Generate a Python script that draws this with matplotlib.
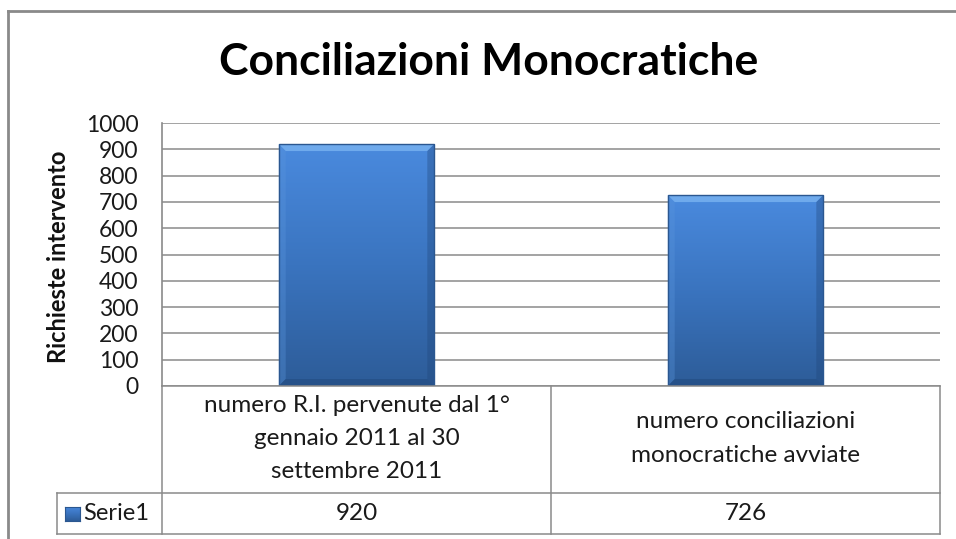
import matplotlib
matplotlib.use("Agg")
import matplotlib.pyplot as plt
import numpy as np
from matplotlib.transforms import blended_transform_factory
from matplotlib.colors import LinearSegmentedColormap
from matplotlib.lines import Line2D
from matplotlib.patches import Polygon

plt.rcParams['font.family'] = ['Lato', 'DejaVu Sans']

title = "Conciliazioni Monocratiche"
ylabel = "Richieste intervento"
categories = ["numero R.I. pervenute dal 1°\ngennaio 2011 al 30\nsettembre 2011",
              "numero conciliazioni\nmonocratiche avviate"]
series_name = "Serie1"
values = [920, 726]
yticks = list(range(0, 1001, 100))

W, H = 956, 539
fig = plt.figure(figsize=(W / 100, H / 100), dpi=100)
fig.patch.set_facecolor('white')

def fx(px):
    return px / W

def fy(py):
    return 1 - py / H

L, R, T, B = 162, 940, 123, 386
ax = fig.add_axes([fx(L), fy(B), fx(R) - fx(L), fy(T) - fy(B)])
ax.set_xlim(-0.5, len(values) - 0.5)
ax.set_ylim(0, 1000)
ax.set_yticks(yticks)
ax.set_yticklabels([str(t) for t in yticks], fontsize=16.5, color='#1a1a1a')
ax.tick_params(axis='y', length=0, pad=17)
ax.set_xticks([])
for s in ['top', 'right', 'bottom']:
    ax.spines[s].set_visible(False)
ax.spines['left'].set_color('#8a8a8a')
ax.spines['left'].set_linewidth(1.2)
ax.yaxis.grid(True, color='#8a8a8a', linewidth=1.1)
ax.set_axisbelow(True)
fig.text(fx(59), fy((T + B) / 2 + 2), ylabel, rotation=90, ha='center', va='center',
         fontsize=17, fontweight='bold', color='#111111')

cmap = LinearSegmentedColormap.from_list('bar', ['#2d5c98', '#3a74bf', '#4a8ade'])
grad = np.linspace(0, 1, 256).reshape(-1, 1)
xpos = np.arange(len(values))
bars = ax.bar(xpos, values, width=0.40, color='none', edgecolor='#2b5790', linewidth=1.0, zorder=3)
bx = 7 * (len(values)) / (R - L)   # bevel width in data x units (~7px)
by = 7 * 1000 / (B - T)            # bevel height in data y units (~7px)
for b in bars:
    x0, w, h = b.get_x(), b.get_width(), b.get_height()
    im = ax.imshow(grad, extent=[x0, x0 + w, 0, h], origin='lower', cmap=cmap,
                   aspect='auto', zorder=2)
    im.set_clip_path(b)
    x1 = x0 + w
    # top bevel (light)
    ax.add_patch(Polygon([(x0, h), (x1, h), (x1 - bx, h - by), (x0 + bx, h - by)],
                         closed=True, facecolor='#7db6f2', edgecolor='none', alpha=0.75, zorder=2.5))
    # left bevel
    ax.add_patch(Polygon([(x0, 0), (x0, h), (x0 + bx, h - by), (x0 + bx, by)],
                         closed=True, facecolor='#5a95dc', edgecolor='none', alpha=0.35, zorder=2.5))
    # right bevel (dark)
    ax.add_patch(Polygon([(x1, 0), (x1, h), (x1 - bx, h - by), (x1 - bx, by)],
                         closed=True, facecolor='#1f4578', edgecolor='none', alpha=0.35, zorder=2.5))
    # bottom bevel (dark)
    ax.add_patch(Polygon([(x0, 0), (x1, 0), (x1 - bx, by), (x0 + bx, by)],
                         closed=True, facecolor='#1f4578', edgecolor='none', alpha=0.45, zorder=2.5))
ax.set_xlim(-0.5, len(values) - 0.5)
ax.set_ylim(0, 1000)

# Title
fig.text(fx(489), fy(62), title, ha='center', va='center',
         fontsize=32, fontweight='bold', color='#000000')

# Outer border
gcol = '#8a8a8a'
fig.add_artist(Line2D([fx(8), fx(8)], [fy(11), fy(539)], color=gcol, lw=2))
fig.add_artist(Line2D([fx(8), 1], [fy(11), fy(11)], color=gcol, lw=2))

# Data table
lc = '#8a8a8a'
row1_top, row1_bot, row2_bot = 386, 493, 534
tleft = 57
fig.add_artist(Line2D([fx(L), fx(R)], [fy(row1_top), fy(row1_top)], color=lc, lw=1.1))
fig.add_artist(Line2D([fx(tleft), fx(R)], [fy(row1_bot), fy(row1_bot)], color=lc, lw=1.1))
fig.add_artist(Line2D([fx(tleft), fx(R)], [fy(row2_bot), fy(row2_bot)], color=lc, lw=1.1))
fig.add_artist(Line2D([fx(tleft), fx(tleft)], [fy(row1_bot), fy(row2_bot)], color=lc, lw=1.1))
tr = blended_transform_factory(ax.transData, fig.transFigure)
edges = np.arange(len(values) + 1) - 0.5
for e in edges:
    fig.add_artist(Line2D([e, e], [fy(row1_top), fy(row2_bot)], color=lc, lw=1.1, transform=tr))
for i, (c, v) in enumerate(zip(categories, values)):
    ax.text(i, fy((row1_top + row1_bot) / 2 - 1), c, transform=tr, ha='center', va='center',
            fontsize=17.5, color='#1a1a1a', linespacing=1.72, clip_on=False)
    ax.text(i, fy((row1_bot + row2_bot) / 2), str(v), transform=tr, ha='center', va='center',
            fontsize=17.5, color='#1a1a1a', clip_on=False)
# legend key + series name
kx0, kx1, ky0, ky1 = 65, 80, 507, 521
kax = fig.add_axes([fx(kx0), fy(ky1), fx(kx1) - fx(kx0), fy(ky0) - fy(ky1)])
kax.imshow(grad, origin='lower', cmap=cmap, aspect='auto', extent=[0, 1, 0, 1])
kax.set_xticks([]); kax.set_yticks([])
for s in kax.spines.values():
    s.set_color('#2b5790'); s.set_linewidth(0.8)
fig.text(fx(83), fy((row1_bot + row2_bot) / 2), series_name, ha='left', va='center',
         fontsize=17, color='#1a1a1a')

fig.savefig('out.png', dpi=100, facecolor='white')
